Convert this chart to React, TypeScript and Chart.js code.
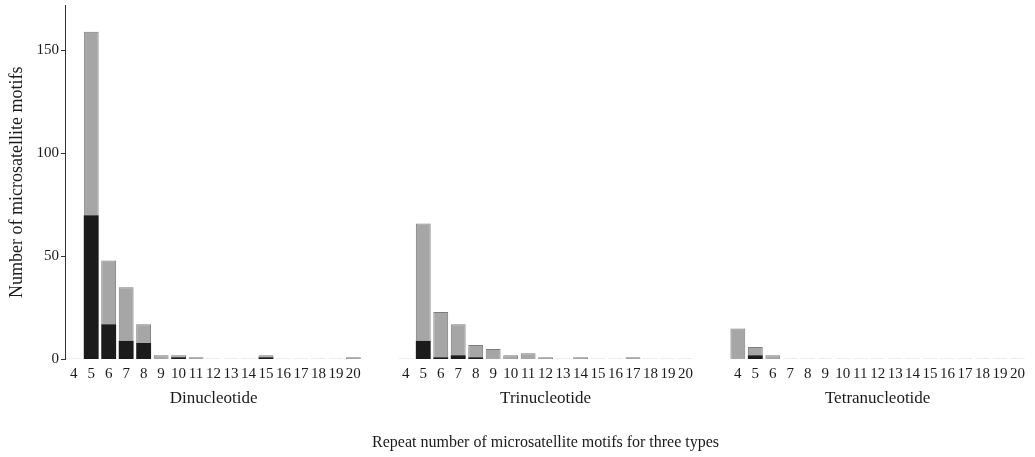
import React, { useEffect, useRef } from "react";
import { Chart, registerables } from "chart.js";

Chart.register(...registerables);

// Repeat numbers on each panel's x axis
const repeatNumbers = ["4", "5", "6", "7", "8", "9", "10", "11", "12", "13", "14", "15", "16", "17", "18", "19", "20"];
const groupNames = ["Dinucleotide", "Trinucleotide", "Tetranucleotide"];

// Dark (lower) part of each stacked bar
const dinDark = [0, 70, 17, 9, 8, 0, 1, 0, 0, 0, 0, 1, 0, 0, 0, 0, 0];
const triDark = [0, 9, 1, 2, 1, 0, 0, 0, 0, 0, 0, 0, 0, 0, 0, 0, 0];
const tetraDark = [0, 2, 0, 0, 0, 0, 0, 0, 0, 0, 0, 0, 0, 0, 0, 0, 0];

// Light (upper) part of each stacked bar
const dinLight = [0, 89, 31, 26, 9, 2, 1, 1, 0, 0, 0, 1, 0, 0, 0, 0, 1];
const triLight = [0, 57, 22, 15, 6, 5, 2, 3, 1, 0, 1, 0, 0, 1, 0, 0, 0];
const tetraLight = [15, 4, 2, 0, 0, 0, 0, 0, 0, 0, 0, 0, 0, 0, 0, 0, 0];

const yTicks = [0, 50, 100, 150];
const yMax = 172;
const gapCategories = 2;

const yTitle = "Number of microsatellite motifs";
const xTitle = "Repeat number of microsatellite motifs for three types";

const FONT = "'Liberation Serif', 'Times New Roman', serif";
const TEXT = "#1a1a1a";

function buildSeries(groups: number[][]): (number | null)[] {
  const out: (number | null)[] = [];
  groups.forEach((g, i) => {
    out.push(...g);
    if (i < groups.length - 1) for (let k = 0; k < gapCategories; k++) out.push(null);
  });
  return out;
}

export default function App() {
  const ref = useRef<HTMLCanvasElement>(null);

  useEffect(() => {
    if (!ref.current) return;
    const labels: string[] = [];
    const centerLabels: Record<number, string> = {};
    groupNames.forEach((name, i) => {
      const start = labels.length;
      labels.push(...repeatNumbers);
      centerLabels[start + Math.floor(repeatNumbers.length / 2)] = name;
      if (i < groupNames.length - 1) for (let k = 0; k < gapCategories; k++) labels.push("");
    });
    const dark = buildSeries([dinDark, triDark, tetraDark]);
    const light = buildSeries([dinLight, triLight, tetraLight]);

    const chart = new Chart(ref.current, {
      type: "bar",
      data: {
        labels,
        datasets: [
          {
            label: "dark",
            data: dark,
            backgroundColor: "#1b1b1b",
            borderWidth: 0,
            barPercentage: 0.85,
            categoryPercentage: 1,
            xAxisID: "x",
          },
          {
            label: "light",
            data: light,
            backgroundColor: "#a6a6a6",
            borderColor: (ctx: any) => {
              const v = ctx.raw;
              const d = dark[ctx.dataIndex];
              return v === 0 && !d ? "#bdbdbd" : "#7c7c7c";
            },
            borderWidth: 1,
            minBarLength: 1,
            barPercentage: 0.85,
            categoryPercentage: 1,
            xAxisID: "x",
          },
        ],
      },
      options: {
        responsive: true,
        maintainAspectRatio: false,
        animation: false,
        layout: { padding: { top: 5, right: 4, bottom: 1, left: 0 } },
        plugins: { legend: { display: false }, tooltip: { enabled: false } },
        scales: {
          x: {
            type: "category",
            stacked: true,
            offset: true,
            grid: { display: false, drawTicks: false },
            border: { display: false },
            ticks: {
              autoSkip: false,
              maxRotation: 0,
              padding: 10,
              color: TEXT,
              font: { family: FONT, size: 15, lineHeight: 0.6 },
            },
          },
          x2: {
            type: "category",
            position: "bottom",
            offset: true,
            labels,
            grid: { display: false, drawTicks: false },
            border: { display: false },
            ticks: {
              autoSkip: false,
              maxRotation: 0,
              padding: 0,
              color: TEXT,
              font: { family: FONT, size: 17 },
              callback: (_v: any, i: number) => centerLabels[i] ?? "",
            },
            title: {
              display: true,
              text: xTitle,
              color: TEXT,
              font: { family: FONT, size: 16 },
              padding: { top: 24, bottom: 4 },
            },
          },
          y: {
            stacked: true,
            min: 0,
            max: yMax,
            afterFit: (s: any) => {
              s.width = 65;
              s.paddingTop = 0;
              s.paddingBottom = 0;
            },
            afterBuildTicks: (s: any) => {
              s.ticks = yTicks.map((v) => ({ value: v }));
            },
            grid: { display: true, drawOnChartArea: false, drawTicks: true, tickLength: 4, color: "#333333" },
            border: { display: true, color: "#333333", width: 1 },
            ticks: {
              padding: 2,
              color: TEXT,
              font: { family: FONT, size: 15 },
            },
            title: {
              display: true,
              text: yTitle,
              color: TEXT,
              font: { family: FONT, size: 18 },
              padding: { top: 6, bottom: 0 },
            },
          },
        },
      },
    });
    return () => chart.destroy();
  }, []);

  return (
    <div style={{ position: "fixed", left: 0, top: 0, width: 1035, height: 457, background: "#ffffff" }}>
      <canvas ref={ref} />
    </div>
  );
}
